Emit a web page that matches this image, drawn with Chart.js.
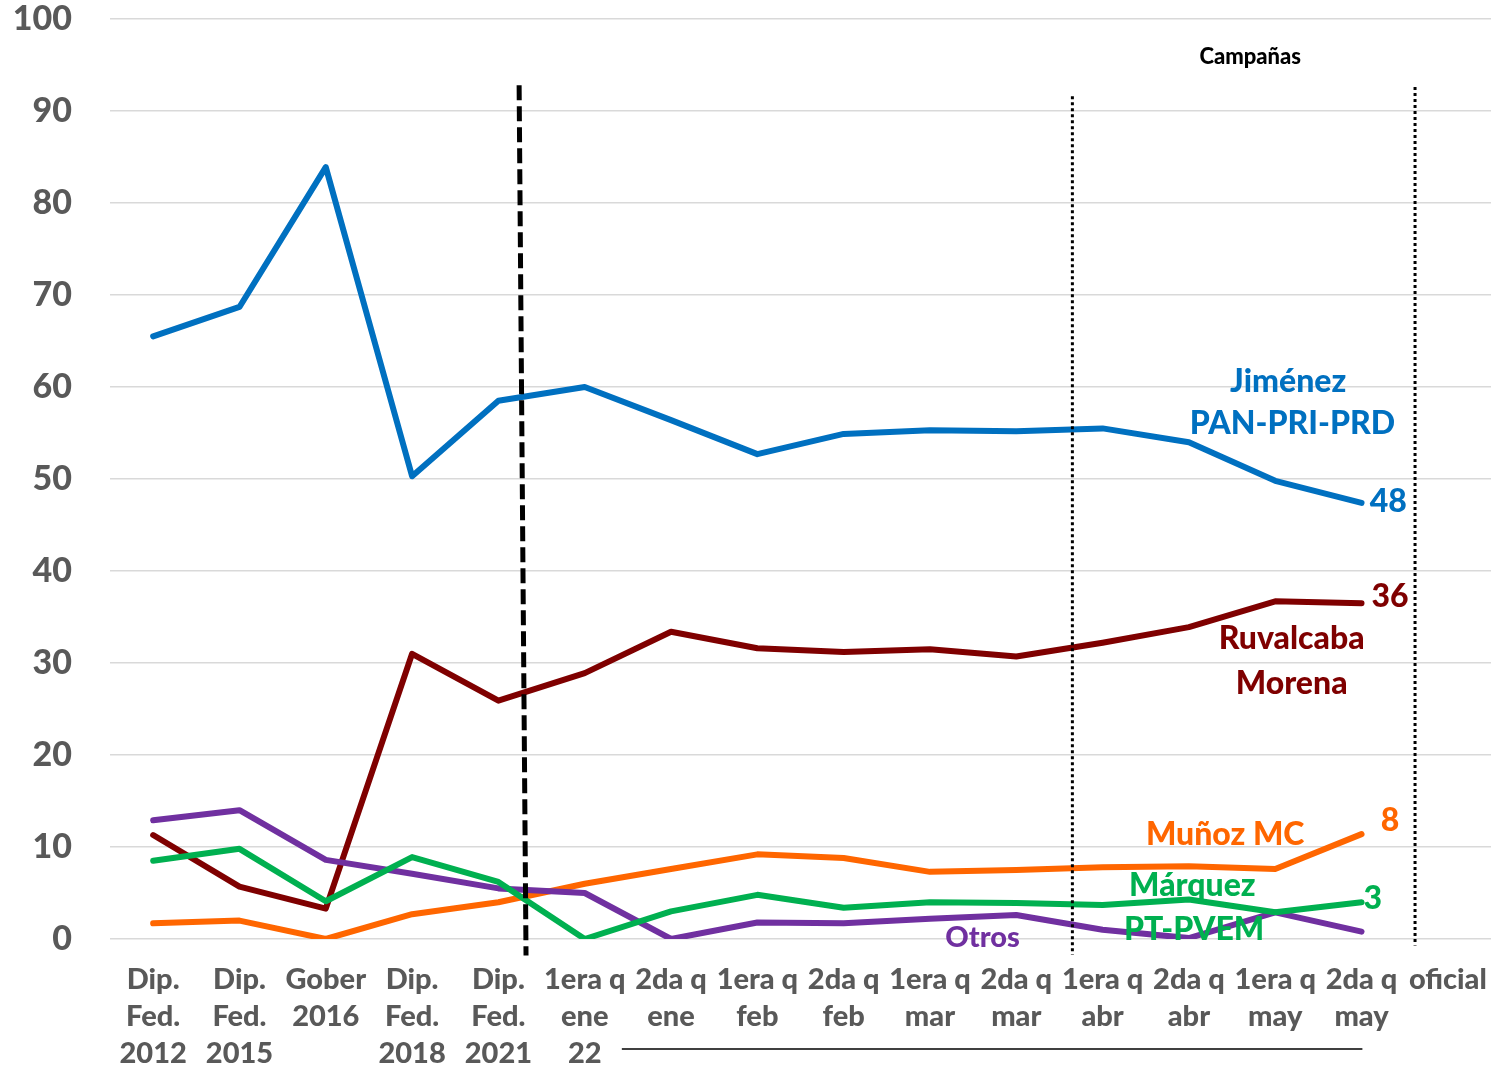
<!DOCTYPE html>
<html><head><meta charset="utf-8">
<script src="https://cdn.jsdelivr.net/npm/chart.js@4/dist/chart.umd.min.js"></script>
<style>html,body{margin:0;padding:0;background:#fff;}#wrap{width:1491px;height:1070px;}</style>
</head><body><div id="wrap"><canvas id="c" width="1491" height="1070"></canvas></div>
<script>
const categories = [
  ["Dip.","Fed.","2012"],["Dip.","Fed.","2015"],["Gober","2016"],["Dip.","Fed.","2018"],["Dip.","Fed.","2021"],
  ["1era q","ene","22"],["2da q","ene"],["1era q","feb"],["2da q","feb"],["1era q","mar"],["2da q","mar"],
  ["1era q","abr"],["2da q","abr"],["1era q","may"],["2da q","may"],["oficial"]
];
const jimenez   = [65.5,68.7,83.9,50.3,58.5,60.0,56.4,52.7,54.9,55.3,55.2,55.5,54.0,49.8,47.4,null];
const ruvalcaba = [11.3,5.7,3.3,31.0,25.9,28.9,33.4,31.6,31.2,31.5,30.7,32.2,33.9,36.7,36.5,null];
const munoz     = [1.7,2.0,0.0,2.7,4.0,6.0,7.6,9.2,8.8,7.3,7.5,7.8,7.9,7.6,11.4,null];
const marquez   = [8.5,9.8,4.1,8.9,6.2,0.0,3.0,4.8,3.4,4.0,3.9,3.7,4.3,2.9,4.0,null];
const otros     = [12.9,14.0,8.6,7.1,5.5,5.0,0.0,1.8,1.7,2.2,2.6,1.0,0.1,2.9,0.8,null];
const yTicks = [0,10,20,30,40,50,60,70,80,90,100];

const FONT = "Lato, 'Open Sans', sans-serif";
const W = '900';
const C_BLUE='#0070c0', C_RED='#7f0000', C_ORANGE='#ff6600', C_GREEN='#00b050', C_PURPLE='#7030a0';

// annotation texts anchored in data units (category index, value)
const notes = [
  {t:"Jiménez", i:13.15, v:60.6, c:C_BLUE},
  {t:"PAN-PRI-PRD", i:13.2, v:56.0, c:C_BLUE},
  {t:"48", i:14.31, v:47.5, c:C_BLUE},
  {t:"36", i:14.33, v:37.2, c:C_RED},
  {t:"Ruvalcaba", i:13.19, v:32.6, c:C_RED},
  {t:"Morena", i:13.19, v:27.8, c:C_RED},
  {t:"Muñoz MC", i:12.42, v:11.3, c:C_ORANGE},
  {t:"8", i:14.33, v:12.9, c:C_ORANGE},
  {t:"Márquez", i:12.04, v:5.76, c:C_GREEN},
  {t:"PT-PVEM", i:12.06, v:0.98, c:C_GREEN},
  {t:"3", i:14.13, v:4.35, c:C_GREEN},
  {t:"Otros", i:9.61, v:0.1, c:C_PURPLE, s:29}
];

const overlay = {
  id:'overlay',
  afterDatasetsDraw(chart){
    const ctx = chart.ctx, xs = chart.scales.x, ys = chart.scales.y;
    const step = xs.getPixelForValue(1) - xs.getPixelForValue(0);
    const px = i => xs.getPixelForValue(0) + i*step;
    const py = v => ys.getPixelForValue(v);
    ctx.save();
    ctx.strokeStyle='#000'; ctx.lineWidth=5; ctx.setLineDash([15,6]);
    ctx.beginPath(); ctx.moveTo(px(4.24),py(92.8)); ctx.lineTo(px(4.32),py(-1.8)); ctx.stroke();
    ctx.lineWidth=3; ctx.setLineDash([3,3]);
    ctx.beginPath(); ctx.moveTo(px(10.65),py(91.6)); ctx.lineTo(px(10.65),py(-1.7)); ctx.stroke();
    ctx.beginPath(); ctx.moveTo(px(14.62),py(92.6)); ctx.lineTo(px(14.62),py(-0.7)); ctx.stroke();
    ctx.setLineDash([]);
    ctx.lineWidth=1.5;
    ctx.beginPath(); ctx.moveTo(px(5.43),py(-11.96)); ctx.lineTo(px(14.01),py(-11.96)); ctx.stroke();
    ctx.textAlign='center'; ctx.textBaseline='middle';
    ctx.fillStyle='#000'; ctx.font=W+" 22px "+FONT;
    ctx.fillText("Campañas", px(12.71), py(95.9));
    notes.forEach(n=>{
      ctx.fillStyle=n.c; ctx.font=W+" "+(n.s||32)+"px "+FONT;
      ctx.fillText(n.t, px(n.i), py(n.v));
    });
    ctx.restore();
  }
};

function ds(label, data, color){
  return {label, data, borderColor:color, backgroundColor:color, borderWidth:6,
          pointRadius:0, pointHoverRadius:0, tension:0, borderCapStyle:'round', borderJoinStyle:'round', spanGaps:false};
}

new Chart(document.getElementById('c'), {
  type:'line',
  data:{ labels:categories, datasets:[
    ds('Márquez', marquez, C_GREEN),
    ds('Otros', otros, C_PURPLE),
    ds('Muñoz', munoz, C_ORANGE),
    ds('Ruvalcaba', ruvalcaba, C_RED),
    ds('Jiménez', jimenez, C_BLUE)
  ]},
  options:{
    responsive:false, animation:false,
    layout:{padding:{top:19,right:0,left:0,bottom:0}},
    plugins:{legend:{display:false}, tooltip:{enabled:false}},
    scales:{
      x:{ offset:true,
          grid:{display:false, drawTicks:false},
          border:{display:false},
          ticks:{color:'#595959', font:{family:FONT, size:29, weight:W, lineHeight:1.28}, padding:22, maxRotation:0, autoSkip:false},
          afterFit(s){ s.height = 131; s.paddingLeft = 0; s.paddingRight = 0; } },
      y:{ min:0, max:100,
          afterBuildTicks(s){ s.ticks = yTicks.map(v=>({value:v})); },
          grid:{color:'#d9d9d9', lineWidth:1.5, drawTicks:false},
          border:{display:false},
          ticks:{color:'#595959', font:{family:FONT, size:34, weight:W}, padding:38},
          afterFit(s){ s.width = 110; s.paddingTop = 0; s.paddingBottom = 0; } }
    }
  },
  plugins:[overlay]
});
</script></body></html>
